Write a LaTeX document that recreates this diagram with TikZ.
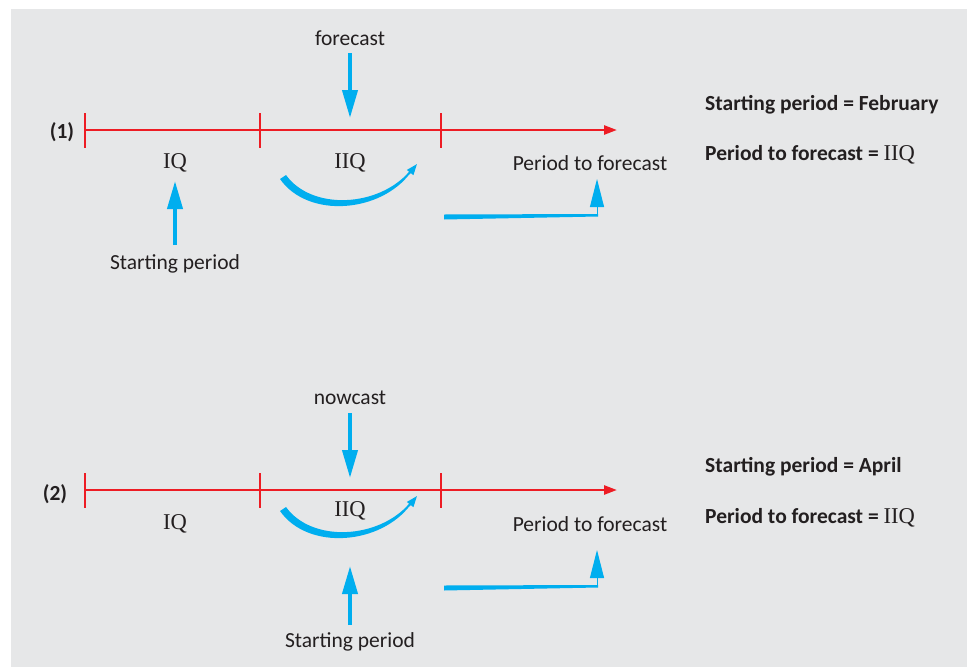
\documentclass[tikz,border=0pt]{standalone}
\usepackage{fontspec}
\setmainfont{Carlito}
\newfontfamily\qfont[Scale=1.05]{Liberation Serif}
\usetikzlibrary{arrows.meta}
\definecolor{axisred}{HTML}{ED1C24}
\definecolor{arrowblue}{HTML}{00AEEF}
\definecolor{panelgray}{HTML}{E6E7E8}
\definecolor{textdark}{HTML}{231F20}
\tikzset{>=stealth,
  timeline/.style={line width=2.5pt,axisred,-{Triangle[width=9pt,length=13pt]}},
  tickmark/.style={line width=2.5pt,axisred},
  bigarrow/.style={line width=4pt,arrowblue,-{Triangle[width=15pt,length=28pt]}},
  lbl/.style={font=\fontsize{21.5}{25}\selectfont,text=textdark,inner sep=1pt},
  info/.style={font=\fontsize{21.5}{25}\selectfont\bfseries,text=textdark,inner sep=1pt,anchor=west},
}
\begin{document}
\begin{tikzpicture}[x=1pt,y=-1pt]
      \useasboundingbox (0,0) rectangle (967,667);
      \fill[panelgray] (11,9) rectangle (967,667);

      % panel (1)
      \node[lbl,font=\fontsize{21.5}{25}\selectfont\bfseries] (num1) at (62,132) {(1)};
      \coordinate (a1) at (85,130);
      \coordinate (b1) at (617,130);
      \draw[timeline] (a1)--(b1);
      \foreach \x in {85,260,441}
        \draw[tickmark] (\x,113)--(\x,148);
      \node[lbl] (iq1) at (175,163) {\qfont IQ};
      \node[lbl] (iiq1) at (350,163) {\qfont IIQ};
      \node[lbl] (pf1) at (590,163) {Period to forecast};
      \node[lbl] (fc1) at (350,38) {forecast};
      \draw[bigarrow] (350,53)--(350,118);
      \node[lbl] (st1) at (175,264) {Starting period};
      \draw[bigarrow] (175,245)--(175,181);
      % curved arrow
      \fill[arrowblue] (280,179) .. controls (308,219) and (381,213) .. (410.7,172.5)
          -- (409.3,171.5) .. controls (379,207) and (312,211) .. (286,175) -- cycle;
      \draw[arrowblue,line width=1.5pt,-{Triangle[width=8pt,length=11pt]}] (409,174)--(417,164);
      % elbow arrow
      \fill[arrowblue] (444,214.5)--(598,214)--(598,216.5)--(444,219.5)--cycle;
      \draw[arrowblue,line width=1pt,-{Triangle[width=14pt,length=28pt]}] (597,216)--(597,179);
      \node[info] (sp1) at (704,105) {Starting period = February};
      \node[info] (pp1) at (704,155) {Period to forecast = {\mdseries\qfont IIQ}};

      % panel (2)
      \node[lbl,font=\fontsize{21.5}{25}\selectfont\bfseries] (num2) at (55,494) {(2)};
      \coordinate (a2) at (85,490);
      \coordinate (b2) at (617,490);
      \draw[timeline] (a2)--(b2);
      \foreach \x in {85,260,441}
        \draw[tickmark] (\x,473)--(\x,508);
      \node[lbl] (iq2) at (175,524) {\qfont IQ};
      \node[lbl] (iiq2) at (350,511) {\qfont IIQ};
      \node[lbl] (pf2) at (590,524) {Period to forecast};
      \node[lbl] (nc2) at (350,398) {nowcast};
      \draw[bigarrow] (350,413)--(350,478);
      \node[lbl] (st2) at (350,642) {Starting period};
      \draw[bigarrow] (350,625)--(350,566);
      \begin{scope}[shift={(0,332)}]
        \fill[arrowblue] (280,179) .. controls (308,219) and (381,213) .. (410.7,172.5)
            -- (409.3,171.5) .. controls (379,207) and (312,211) .. (286,175) -- cycle;
        \draw[arrowblue,line width=1.5pt,-{Triangle[width=8pt,length=11pt]}] (409,174)--(417,164);
      \end{scope}
      \begin{scope}[shift={(0,371)}]
        \fill[arrowblue] (444,214.5)--(598,214)--(598,216.5)--(444,219.5)--cycle;
        \draw[arrowblue,line width=1pt,-{Triangle[width=14pt,length=28pt]}] (597,216)--(597,179);
      \end{scope}
      \node[info] (sp2) at (704,467) {Starting period = April};
      \node[info] (pp2) at (704,518) {Period to forecast = {\mdseries\qfont IIQ}};
\end{tikzpicture}
\end{document}
